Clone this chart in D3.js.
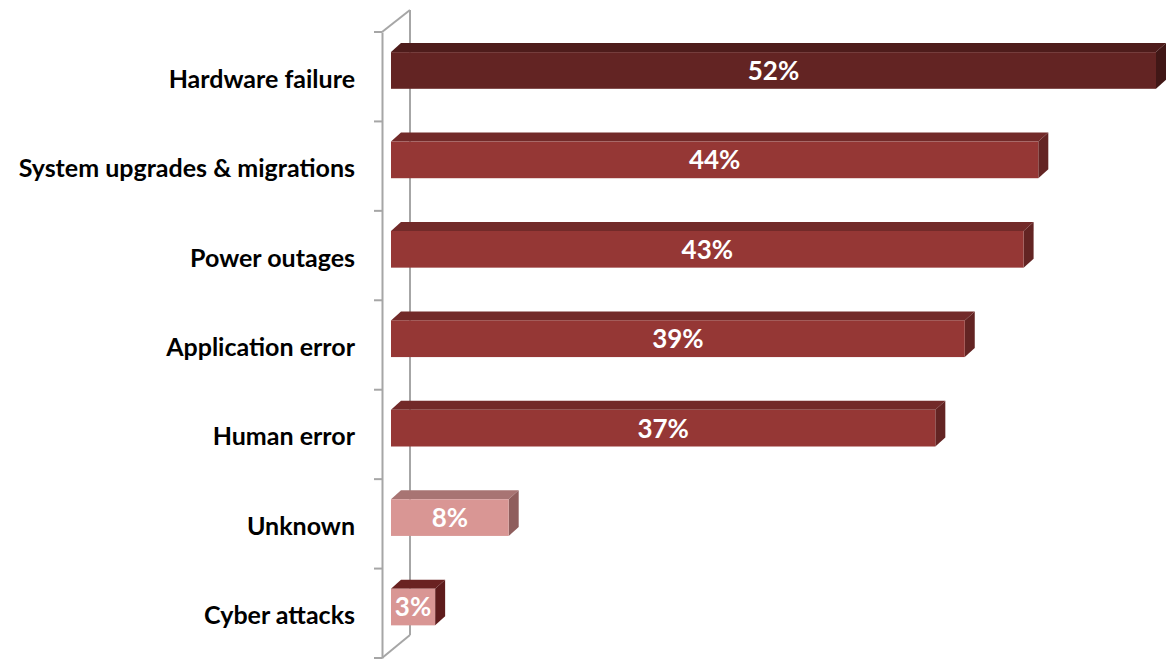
<!DOCTYPE html>
<html>
<head>
<meta charset="utf-8">
<script src="https://cdn.jsdelivr.net/npm/d3@7"></script>
<style>
  html, body { margin: 0; padding: 0; background: #ffffff; }
  svg { display: block; }
  text { font-family: Lato, "Open Sans", sans-serif; font-weight: 700; }
</style>
</head>
<body>
<svg id="chart" width="1174" height="660"></svg>
<script>
// Causes of downtime, share of respondents (%)
const categories = [
  "Hardware failure",
  "System upgrades & migrations",
  "Power outages",
  "Application error",
  "Human error",
  "Unknown",
  "Cyber attacks"
];
const values = [52, 44, 43, 39, 37, 8, 3];
const valueLabels = ["52%", "44%", "43%", "39%", "37%", "8%", "3%"];

// front / top / side shading per bar
const frontColors = ["#632423", "#953735", "#953735", "#953735", "#953735", "#d99694", "#d99694"];
const topColors   = ["#4e1c1b", "#722a29", "#722a29", "#722a29", "#722a29", "#a87473", "#6a2221"];
const sideColors  = ["#411716", "#632423", "#632423", "#632423", "#632423", "#8f5e5d", "#5e1c1c"];

const svg = d3.select("#chart");

const depthX = 10, depthY = -9;

const x = d3.scaleLinear().domain([0, 52]).range([391, 1156]);
const y = d3.scaleBand().domain(categories).range([32, 658]).paddingInner(0).paddingOuter(0);
const step = y.step();
const barTop = d => y(d) + step * 0.225;
const barH = step * 0.41;

// back wall edge and floor/ceiling diagonals
const wall = svg.append("g").attr("stroke", "#a6a6a6").attr("stroke-width", 2).attr("fill", "none");
const x0 = x.range()[0] - 9;
wall.append("line").attr("x1", x0 + 28).attr("y1", y.range()[0] - 22).attr("x2", x0 + 28).attr("y2", y.range()[1] - 23);
wall.append("line").attr("x1", x0).attr("y1", y.range()[0]).attr("x2", x0 + 28).attr("y2", y.range()[0] - 22);
wall.append("line").attr("x1", x0).attr("y1", y.range()[1]).attr("x2", x0 + 28).attr("y2", y.range()[1] - 23);

// bars as 3D boxes
const bars = svg.append("g").selectAll("g").data(categories).join("g");
bars.each(function(c, i) {
  const g = d3.select(this);
  const xl = x(0), xr = x(values[i]);
  const t = barTop(c), b = t + barH;
  g.append("polygon")
    .attr("points", [[xl, t], [xl + depthX, t + depthY], [xr + depthX, t + depthY], [xr, t]].map(p => p.join(",")).join(" "))
    .attr("fill", topColors[i]);
  g.append("polygon")
    .attr("points", [[xr, t], [xr + depthX, t + depthY], [xr + depthX, b + depthY], [xr, b]].map(p => p.join(",")).join(" "))
    .attr("fill", sideColors[i]);
  g.append("rect")
    .attr("x", xl).attr("y", t).attr("width", xr - xl).attr("height", barH)
    .attr("fill", frontColors[i]);
  g.append("text")
    .attr("x", (xl + xr) / 2).attr("y", t + barH / 2)
    .attr("dy", "0.36em")
    .attr("text-anchor", "middle")
    .attr("fill", "#ffffff")
    .attr("font-size", 26)
    .text(valueLabels[i]);
});

// front axis with ticks at band boundaries
const axis = d3.axisLeft(y).tickSize(0).tickFormat("");
const axisG = svg.append("g").attr("transform", `translate(${x0},0)`).call(axis);
axisG.select(".domain").attr("stroke", "#a6a6a6").attr("stroke-width", 2);
const bounds = categories.map(c => y(c)).concat([y.range()[1]]);
axisG.selectAll("line.bound").data(bounds).join("line")
  .attr("class", "bound")
  .attr("x1", -8).attr("x2", 0)
  .attr("y1", d => d).attr("y2", d => d)
  .attr("stroke", "#a6a6a6").attr("stroke-width", 2);

// category labels
svg.append("g").selectAll("text").data(categories).join("text")
  .attr("x", 355)
  .attr("y", d => y(d) + step / 2 + 2)
  .attr("dy", "0.36em")
  .attr("text-anchor", "end")
  .attr("fill", "#000000")
  .attr("font-size", 25)
  .text(d => d);
</script>
</body>
</html>
